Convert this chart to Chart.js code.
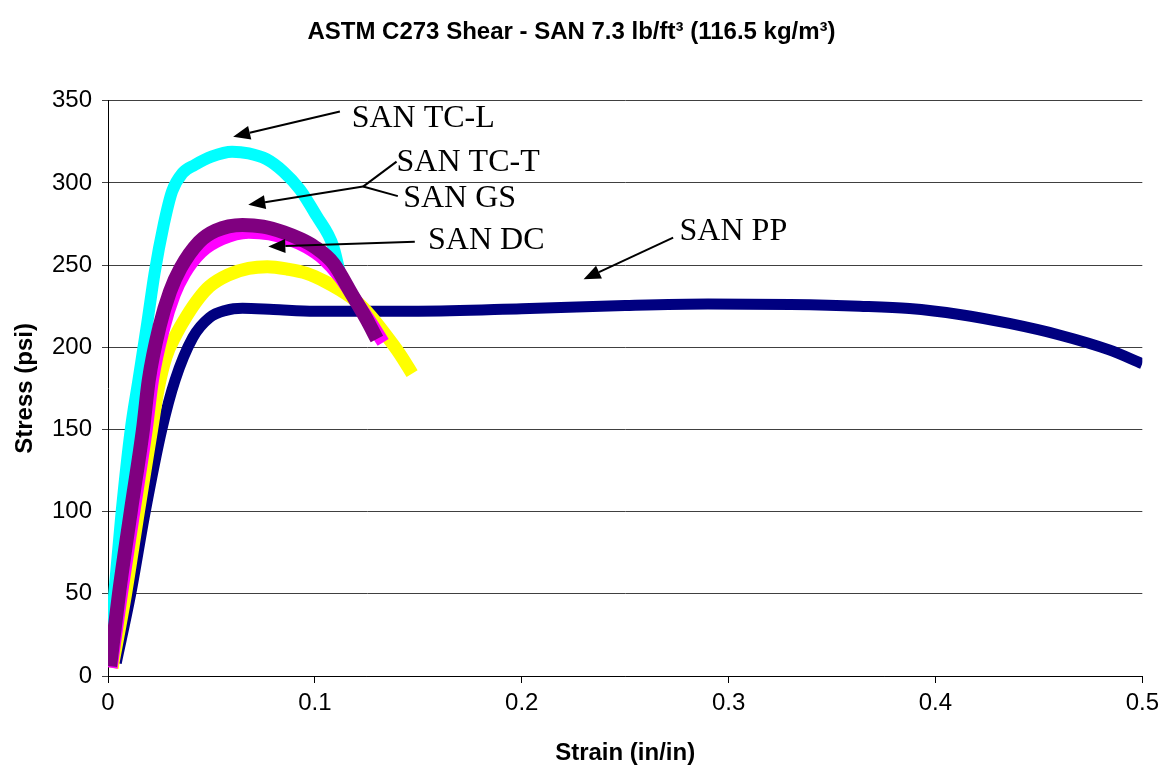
<!DOCTYPE html>
<html>
<head>
<meta charset="utf-8">
<script src="https://cdn.jsdelivr.net/npm/chart.js@4.4.1/dist/chart.umd.min.js"></script>
<style>
  html, body { margin: 0; padding: 0; background: #fff; }
  #shear { display: block; }
</style>
</head>
<body>
<canvas id="shear" width="1165" height="768"></canvas>
<script>
// BEGIN: DATA
const xTicks = [0, 0.1, 0.2, 0.3, 0.4, 0.5];
const yTicks = [0, 50, 100, 150, 200, 250, 300, 350];

const strainTCL = [0.0005, 0.003, 0.0066, 0.011, 0.0147, 0.019, 0.0225, 0.027, 0.031, 0.036, 0.042, 0.05, 0.06, 0.068, 0.0766, 0.0847, 0.0928, 0.1008, 0.109, 0.113];
const stressTCL = [10, 50, 100, 150, 180, 215, 245, 275, 295, 306, 311, 316, 319, 318, 314.5, 307, 296, 280, 261, 240];

const strainTCT = [0.001, 0.0053, 0.011, 0.0169, 0.0197, 0.025, 0.03, 0.035, 0.044, 0.052, 0.065, 0.075, 0.085, 0.0928, 0.1, 0.109, 0.118, 0.125, 0.13];
const stressTCT = [6, 50, 100, 150, 180, 213, 234, 248, 264, 271, 274.5, 273.5, 270, 266, 261, 251, 232, 217, 205];

const strainGS = [0.0015, 0.0065, 0.0125, 0.0185, 0.0215, 0.027, 0.032, 0.037, 0.045, 0.055, 0.068, 0.078, 0.088, 0.096, 0.104, 0.112, 0.12, 0.127, 0.133];
const stressGS = [5, 50, 100, 150, 180, 212, 232, 245, 258, 266, 270, 269, 265.5, 261, 254, 243, 228, 215, 203];

const strainDC = [0.002, 0.0085, 0.0147, 0.0211, 0.0243, 0.028, 0.033, 0.038, 0.044, 0.049, 0.058, 0.068, 0.077, 0.087, 0.096, 0.105, 0.112, 0.12, 0.127, 0.134, 0.141, 0.147];
const stressDC = [5, 50, 100, 150, 175, 194, 208, 219, 230, 237, 244, 248, 249, 247.5, 245, 240, 235, 228, 219, 208, 196, 184];

const strainPP = [0.004, 0.011, 0.018, 0.026, 0.0324, 0.041, 0.049, 0.057, 0.065, 0.08, 0.1, 0.15, 0.2, 0.25, 0.29, 0.33, 0.3633, 0.3874, 0.4116, 0.4357, 0.4599, 0.484, 0.5];
const stressPP = [8, 50, 100, 150, 180, 206, 218, 222.5, 223.7, 223, 222, 222, 223.5, 225.5, 226.4, 226, 225, 223.6, 220, 214.5, 207.5, 198.4, 190];

// callout labels: [text, strain, stress] (left edge / baseline)
const calloutText = [
  ["SAN TC-L", 0.1178, 334],
  ["SAN TC-T", 0.1395, 307],
  ["SAN GS", 0.1427, 285.2],
  ["SAN DC", 0.1547, 259.7],
  ["SAN PP", 0.2763, 265.4],
];
// arrows: [tailStrain, tailStress, tipStrain, tipStress]
const calloutArrows = [
  [0.1121, 343.5, 0.0605, 328.2],
  [0.1233, 297.8, 0.0678, 286.7],
  [0.1483, 264.3, 0.0775, 261.3],
  [0.2732, 266.8, 0.2299, 241.4],
];
// plain leader lines: [x1, y1, x2, y2]
const calloutLines = [
  [0.1233, 297.8, 0.1395, 313],
  [0.1233, 297.8, 0.1401, 292],
];
// END: DATA

const zip = (xs, ys) => xs.map((x, i) => ({ x: x, y: ys[i] }));

const curve = (label, xs, ys, color, width) => ({
  label: label,
  data: zip(xs, ys),
  borderColor: color,
  backgroundColor: color,
  borderWidth: width,
  borderCapStyle: "butt",
  borderJoinStyle: "round",
  showLine: true,
  pointRadius: 0,
  pointHoverRadius: 0,
  cubicInterpolationMode: "monotone",
  fill: false,
});

// BEGIN: CALLOUTS PLUGIN
const callouts = {
  id: "callouts",
  afterDatasetsDraw(chart) {
    const ctx = chart.ctx;
    const sx = chart.scales.x;
    const sy = chart.scales.y;
    ctx.save();
    ctx.strokeStyle = "#000";
    ctx.fillStyle = "#000";
    ctx.lineWidth = 2;

    calloutLines.forEach((l) => {
      ctx.beginPath();
      ctx.moveTo(sx.getPixelForValue(l[0]), sy.getPixelForValue(l[1]));
      ctx.lineTo(sx.getPixelForValue(l[2]), sy.getPixelForValue(l[3]));
      ctx.stroke();
    });

    calloutArrows.forEach((a) => {
      const x1 = sx.getPixelForValue(a[0]);
      const y1 = sy.getPixelForValue(a[1]);
      const x2 = sx.getPixelForValue(a[2]);
      const y2 = sy.getPixelForValue(a[3]);
      const ang = Math.atan2(y2 - y1, x2 - x1);
      const len = 17;
      const half = 7;
      const bx = x2 - len * Math.cos(ang);
      const by = y2 - len * Math.sin(ang);
      ctx.beginPath();
      ctx.moveTo(x1, y1);
      ctx.lineTo(bx, by);
      ctx.stroke();
      ctx.beginPath();
      ctx.moveTo(x2, y2);
      ctx.lineTo(bx + half * Math.sin(ang), by - half * Math.cos(ang));
      ctx.lineTo(bx - half * Math.sin(ang), by + half * Math.cos(ang));
      ctx.closePath();
      ctx.fill();
    });

    ctx.font = '32px "Liberation Serif", "Times New Roman", serif';
    ctx.textAlign = "left";
    ctx.textBaseline = "alphabetic";
    calloutText.forEach((t) => {
      ctx.fillText(t[0], sx.getPixelForValue(t[1]), sy.getPixelForValue(t[2]));
    });
    ctx.restore();
  },
};
// END: CALLOUTS PLUGIN

// BEGIN: SHEAR CHART
new Chart(document.getElementById("shear"), {
  type: "scatter",
  data: {
    datasets: [
      curve("SAN TC-T", strainTCT, stressTCT, "#800080", 14),
      curve("SAN GS", strainGS, stressGS, "#FF00FF", 13),
      curve("SAN DC", strainDC, stressDC, "#FFFF00", 13),
      curve("SAN TC-L", strainTCL, stressTCL, "#00FFFF", 12),
      curve("SAN PP", strainPP, stressPP, "#000080", 11),
    ],
  },
  plugins: [callouts],
  options: {
    responsive: false,
    animation: false,
    layout: { padding: { left: 0, right: 22, top: 0, bottom: 0 } },
    plugins: {
      legend: { display: false },
      tooltip: { enabled: false },
      title: {
        display: true,
        text: "ASTM C273 Shear - SAN 7.3 lb/ft\u00B3 (116.5 kg/m\u00B3)",
        color: "#000",
        font: { family: '"Liberation Sans", Arial, sans-serif', size: 24, weight: "bold" },
        padding: { top: 18, bottom: 54 },
      },
    },
    scales: {
      x: {
        type: "linear",
        min: 0,
        max: 0.5,
        afterBuildTicks: (axis) => {
          axis.ticks = xTicks.map((v) => ({ value: v }));
        },
        afterFit: (axis) => {
          axis.height = 92;
        },
        ticks: {
          color: "#000",
          padding: 6,
          maxRotation: 0,
          font: { family: '"Liberation Sans", Arial, sans-serif', size: 24 },
          callback: (v) => String(v),
        },
        grid: {
          drawOnChartArea: false,
          drawTicks: true,
          tickLength: 7,
          color: "#000",
        },
        border: { display: true, color: "#000", width: 1 },
        title: {
          display: true,
          text: "Strain (in/in)",
          color: "#000",
          font: { family: '"Liberation Sans", Arial, sans-serif', size: 24, weight: "bold" },
          padding: { top: 0, bottom: 0 },
        },
      },
      y: {
        type: "linear",
        min: 0,
        max: 350,
        afterBuildTicks: (axis) => {
          axis.ticks = yTicks.map((v) => ({ value: v }));
        },
        afterFit: (axis) => {
          axis.width = 108;
        },
        ticks: {
          color: "#000",
          padding: 10,
          font: { family: '"Liberation Sans", Arial, sans-serif', size: 24 },
          callback: (v) => String(v),
        },
        grid: {
          drawTicks: true,
          tickLength: 6,
          color: "#404040",
          lineWidth: 1,
        },
        border: { display: true, color: "#000", width: 1 },
        title: {
          display: true,
          text: "Stress (psi)",
          color: "#000",
          font: { family: '"Liberation Sans", Arial, sans-serif', size: 24, weight: "bold" },
          padding: { top: 11, bottom: 0 },
        },
      },
    },
  },
});
// END: SHEAR CHART
</script>
</body>
</html>
